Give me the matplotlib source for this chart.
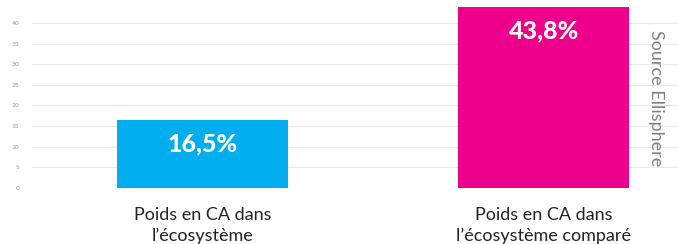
import matplotlib
matplotlib.use("Agg")
import matplotlib.pyplot as plt

categories = ["Poids en CA dans\nl’écosystème", "Poids en CA dans\nl’écosystème comparé"]
values = [16.5, 43.8]
value_labels = ["16,5%", "43,8%"]
colors = ["#00AEEF", "#EC008C"]
yticks = [0, 5, 10, 15, 20, 25, 30, 35, 40]

fig = plt.figure(figsize=(6.78, 2.44), dpi=100)
ax = fig.add_axes([32/678, 56/244, (678-32)/678, 182/244])
x = list(range(len(categories)))
ax.bar(x, values, width=0.5, color=colors, zorder=2)
ax.set_xlim(-0.5, 1.394)
ax.set_ylim(0, 44.1)
ax.set_yticks(yticks)
ax.set_yticklabels([str(t) for t in yticks], fontsize=4.5, color="#999999")
ax.grid(axis="y", color="#ebebeb", linewidth=0.8, zorder=0)
ax.tick_params(axis="y", length=0, pad=9)
ax.tick_params(axis="x", length=0, pad=14)
ax.set_xticks(x)
ax.set_xticklabels(categories, fontsize=13, color="#222222", family="Lato", linespacing=1.3)
for s in ax.spines.values():
    s.set_visible(False)
for xi, v, lab in zip(x, values, value_labels):
    ax.annotate(lab, (xi, v), xytext=(0, -17), textcoords="offset points",
                ha="center", va="center", color="white", fontsize=18, fontweight="black",
                family="Lato")
fig.text(656/678, 1 - 98/244, "Source Ellisphere", rotation=-90, ha="center", va="center",
         fontsize=13, color="#808080", family="Lato")
fig.savefig("out.png", dpi=100)
